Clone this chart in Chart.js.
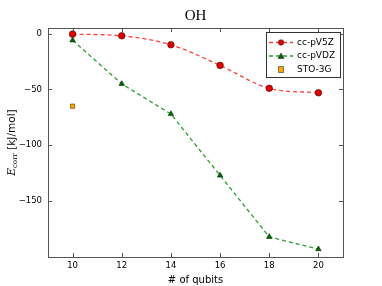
<!DOCTYPE html>
<html>
<head>
<meta charset="utf-8">
<script src="https://cdn.jsdelivr.net/npm/chart.js@4/dist/chart.umd.min.js"></script>
<style>
  html, body { margin:0; padding:0; background:#fff; }
  #wrap { width:382px; height:286px; }
</style>
</head>
<body>
<div id="wrap"><canvas id="c" width="382" height="286"></canvas></div>
<script>
/* ── Datos ── */
const qubits = [10, 12, 14, 16, 18, 20];
const pv5z = [-0.5, -2, -10, -28.5, -49, -53];
const pvdz = [-6, -45, -72, -127, -182, -193];
const stoQubits = [10];
const sto3g = [-65];
const xTicks = [10, 12, 14, 16, 18, 20];
const yTicks = [-150, -100, -50, 0];

const toPts = (xs, ys) => xs.map((x, i) => ({ x: x, y: ys[i] }));
const minus = v => (v < 0 ? '\u2212' + Math.abs(v) : String(v));

/* ── Plugin: marco, ticks internos, título, etiqueta Y y leyenda ── */
const decor = {
  id: 'decor',
  afterDraw(chart) {
    const ctx = chart.ctx, a = chart.chartArea;
    const xs = chart.scales.x, ys = chart.scales.y;
    ctx.save();
    ctx.strokeStyle = '#555';
    ctx.lineWidth = 1;
    ctx.strokeRect(Math.round(a.left) + 0.5, Math.round(a.top) + 0.5,
      Math.round(a.right - a.left), Math.round(a.bottom - a.top));
    ctx.beginPath();
    xTicks.forEach(t => {
      const px = Math.round(xs.getPixelForValue(t)) + 0.5;
      ctx.moveTo(px, a.bottom); ctx.lineTo(px, a.bottom - 4);
      ctx.moveTo(px, a.top); ctx.lineTo(px, a.top + 4);
    });
    yTicks.forEach(t => {
      const py = Math.round(ys.getPixelForValue(t)) + 0.5;
      ctx.moveTo(a.left, py); ctx.lineTo(a.left + 4, py);
      ctx.moveTo(a.right, py); ctx.lineTo(a.right - 4, py);
    });
    ctx.stroke();

    // título
    ctx.fillStyle = '#000';
    ctx.font = '15px "Liberation Serif"';
    ctx.textAlign = 'center';
    ctx.textBaseline = 'alphabetic';
    ctx.fillText('OH', (a.left + a.right) / 2, 20);

    // etiqueta eje Y
    ctx.save();
    ctx.translate(12, (a.top + a.bottom) / 2);
    ctx.rotate(-Math.PI / 2);
    ctx.textBaseline = 'middle';
    const pE = 'E', pSub = 'corr', pRest = ' [kJ/mol]';
    const fE = 'italic 10.5px "DejaVu Serif"', fSub = '7px "DejaVu Serif"', fR = '10.5px "DejaVu Sans"';
    ctx.font = fE; const wE = ctx.measureText(pE).width;
    ctx.font = fSub; const wS = ctx.measureText(pSub).width;
    ctx.font = fR; const wR = ctx.measureText(pRest).width;
    let x0 = -(wE + wS + wR) / 2;
    ctx.textAlign = 'left';
    ctx.font = fE; ctx.fillText(pE, x0, 0); x0 += wE;
    ctx.font = fSub; ctx.fillText(pSub, x0, 3); x0 += wS;
    ctx.font = fR; ctx.fillText(pRest, x0, 0);
    ctx.restore();

    // leyenda
    const lx = 266, ly = 32, lw = 74, lh = 45;
    ctx.fillStyle = '#fff';
    ctx.fillRect(lx, ly, lw, lh);
    ctx.strokeStyle = '#333';
    ctx.strokeRect(lx + 0.5, ly + 0.5, lw, lh);
    const rows = [
      { label: 'cc-pV5Z', color: '#ff4040', marker: 'circle', fill: '#e00000', line: true },
      { label: 'cc-pVDZ', color: '#2ca02c', marker: 'triangle', fill: '#006400', line: true },
      { label: 'STO-3G', color: null, marker: 'square', fill: '#ffa500', line: false }
    ];
    rows.forEach((r, i) => {
      const y = ly + 10.5 + i * 13.5;
      if (r.line) {
        ctx.save();
        ctx.strokeStyle = r.color; ctx.lineWidth = 1.3;
        ctx.setLineDash([4, 3]);
        ctx.beginPath(); ctx.moveTo(269, y); ctx.lineTo(293, y); ctx.stroke();
        ctx.restore();
      }
      ctx.fillStyle = r.fill; ctx.strokeStyle = '#333'; ctx.lineWidth = 0.6;
      ctx.beginPath();
      if (r.marker === 'circle') ctx.arc(281, y, 2.8, 0, Math.PI * 2);
      else if (r.marker === 'triangle') { ctx.moveTo(281, y - 3); ctx.lineTo(284, y + 2.5); ctx.lineTo(278, y + 2.5); ctx.closePath(); }
      else ctx.rect(278.5, y - 3, 5, 6);
      ctx.fill(); ctx.stroke();
      ctx.fillStyle = '#000';
      ctx.font = '9px "DejaVu Sans"';
      ctx.textAlign = 'left'; ctx.textBaseline = 'middle';
      ctx.fillText(r.label, 297, y);
    });
    ctx.restore();
  }
};

new Chart(document.getElementById('c'), {
  type: 'scatter',
  data: {
    datasets: [
      {
        label: 'cc-pV5Z', data: toPts(qubits, pv5z), showLine: true,
        borderColor: '#ff4040', borderWidth: 1.3, borderDash: [4, 3],
        pointStyle: 'circle', pointRadius: 3.3, pointBackgroundColor: '#e00000',
        pointBorderColor: '#440000', pointBorderWidth: 0.6, cubicInterpolationMode: 'monotone'
      },
      {
        label: 'cc-pVDZ', data: toPts(qubits, pvdz), showLine: true,
        borderColor: '#2ca02c', borderWidth: 1.3, borderDash: [4, 3],
        pointStyle: 'triangle', pointRadius: 3.2, pointBackgroundColor: '#006400',
        pointBorderColor: '#003300', pointBorderWidth: 0.6, tension: 0
      },
      {
        label: 'STO-3G', data: toPts(stoQubits, sto3g), showLine: false,
        pointStyle: 'rect', pointRadius: 3, pointBackgroundColor: '#ffa500',
        pointBorderColor: '#553300', pointBorderWidth: 0.6
      }
    ]
  },
  options: {
    responsive: false,
    animation: false,
    layout: { padding: { left: 0, right: 39, top: 28, bottom: 0 } },
    plugins: { legend: { display: false }, tooltip: { enabled: false }, title: { display: false } },
    scales: {
      x: {
        type: 'linear', min: 9, max: 21,
        afterBuildTicks: s => { s.ticks = xTicks.map(v => ({ value: v })); },
        afterFit: s => { s.height = 29; },
        grid: { display: false, drawTicks: false },
        border: { display: false },
        ticks: { color: '#000', font: { family: 'DejaVu Sans', size: 8.5 }, padding: 4, maxRotation: 0 },
        title: { display: true, text: '# of qubits', color: '#000', font: { family: 'DejaVu Sans', size: 10 }, padding: { top: 0, bottom: 0 } }
      },
      y: {
        type: 'linear', min: -200, max: 5,
        afterBuildTicks: s => { s.ticks = yTicks.map(v => ({ value: v })); },
        afterFit: s => { s.width = 48; },
        grid: { display: false, drawTicks: false },
        border: { display: false },
        ticks: { color: '#000', font: { family: 'DejaVu Sans', size: 8.5 }, padding: 6, callback: v => minus(v) }
      }
    }
  },
  plugins: [decor]
});
</script>
</body>
</html>
